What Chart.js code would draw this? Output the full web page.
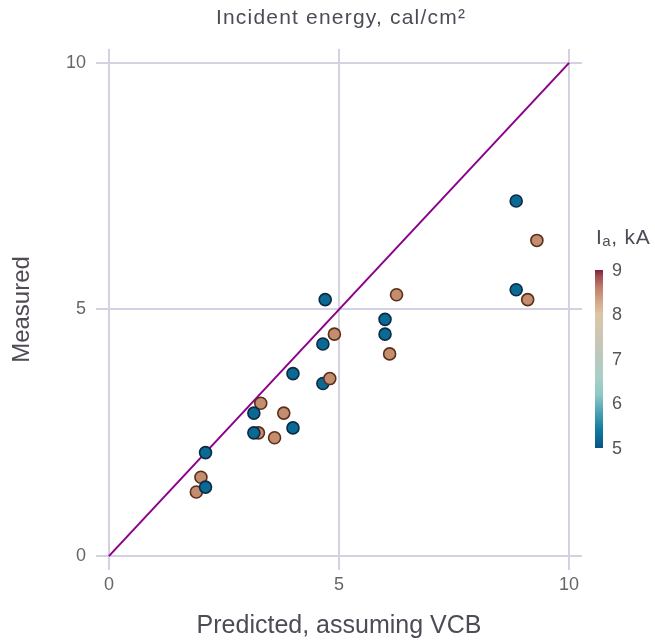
<!DOCTYPE html>
<html>
<head>
<meta charset="utf-8">
<script src="https://cdn.jsdelivr.net/npm/chart.js@4/dist/chart.umd.min.js"></script>
<style>
  html, body { margin: 0; padding: 0; background: #fff; }
  canvas { display: block; }
</style>
</head>
<body>
<canvas id="chart" width="655" height="641"></canvas>
<script>
// data
const predicted = [1.9, 2.0, 3.25, 3.6, 3.3, 3.8, 4.9, 6.1, 6.25, 9.3, 9.1,
                   2.1, 2.1, 3.15, 3.15, 4.0, 4.0, 4.65, 4.65, 4.7, 6.0, 6.0, 8.85, 8.85,
                   4.8];
const measured  = [1.3, 1.6, 2.5, 2.4, 3.1, 2.9, 4.5, 4.1, 5.3, 6.4, 5.2,
                   2.1, 1.4, 2.9, 2.5, 3.7, 2.6, 4.3, 3.5, 5.2, 4.8, 4.5, 7.2, 5.4,
                   3.6];
const currentKA = [8.4, 8.4, 8.4, 8.4, 8.4, 8.4, 8.4, 8.4, 8.4, 8.4, 8.4,
                   5.2, 5.2, 5.2, 5.2, 5.2, 5.2, 5.2, 5.2, 5.2, 5.2, 5.2, 5.2, 5.2,
                   8.4];
const axisTicks = [0, 5, 10];
const identityLine = [0, 10];
const colorbarTicks = [5, 6, 7, 8, 9];

const FONT = "'Liberation Sans', Arial, sans-serif";
const GRID = '#d4d1e3';
const TEXT = '#4f4a55';

// colour scale used by the colour bar (value -> colour)
const cbarStops = [
  [5.0, '#0b5285'], [5.4, '#0f79a0'], [5.8, '#4aa1b3'], [6.2, '#8fc9c5'],
  [6.6, '#a8d0c8'], [7.0, '#bac8bd'], [7.5, '#cdc6b3'], [8.0, '#dcc6a5'],
  [8.3, '#d3a688'], [8.6, '#c07f69'], [8.85, '#a14d50'], [9.0, '#7d2240']
];

const fillFor = v => v < 7 ? '#0b6a94' : '#c48d70';
const edgeFor = v => v < 7 ? '#0d2a45' : '#5a2f1a';

const points = predicted.map((x, i) => ({ x, y: measured[i] }));

// plot title centred over the plot area, plus the colour bar on the right
const decorations = {
  id: 'decorations',
  afterDraw(chart) {
    const ctx = chart.ctx;
    const area = chart.chartArea;
    ctx.save();
    ctx.fillStyle = TEXT;
    ctx.font = '21px ' + FONT;
    ctx.letterSpacing = '1.2px';
    ctx.textAlign = 'center';
    ctx.textBaseline = 'middle';
    ctx.fillText('Incident energy, cal/cm²', (area.left + area.right) / 2 + 2, 18);
    ctx.letterSpacing = '0px';

    const x0 = 595, w = 8, top = 270, bottom = 448;
    const lo = colorbarTicks[0], hi = colorbarTicks[colorbarTicks.length - 1];
    const yOf = v => bottom - (v - lo) / (hi - lo) * (bottom - top);
    const g = ctx.createLinearGradient(0, bottom, 0, top);
    cbarStops.forEach(([v, c]) => g.addColorStop((v - lo) / (hi - lo), c));
    ctx.fillStyle = g;
    ctx.fillRect(x0, top, w, bottom - top);
    ctx.fillStyle = '#555';
    ctx.font = '18px ' + FONT;
    ctx.textAlign = 'left';
    ctx.textBaseline = 'middle';
    colorbarTicks.forEach(t => ctx.fillText(String(t), 612, yOf(t) + 1));

    // legend title I_a, kA
    ctx.fillStyle = TEXT;
    ctx.textBaseline = 'alphabetic';
    ctx.font = '21px ' + FONT;
    ctx.fillText('I', 596, 244);
    const wI = ctx.measureText('I').width;
    ctx.font = '15px ' + FONT;
    ctx.fillText('a', 596 + wI + 0.5, 246);
    const wa = ctx.measureText('a').width;
    ctx.font = '21px ' + FONT;
    ctx.letterSpacing = '0.8px';
    ctx.fillText(', kA', 596 + wI + wa + 1, 244);
    ctx.restore();
  }
};

new Chart(document.getElementById('chart'), {
  type: 'scatter',
  data: {
    datasets: [
      {
        data: points,
        backgroundColor: currentKA.map(fillFor),
        borderColor: currentKA.map(edgeFor),
        borderWidth: 1.6,
        pointRadius: 6,
        pointHoverRadius: 6,
        order: 0
      },
      {
        type: 'line',
        data: identityLine.map(v => ({ x: v, y: v })),
        borderColor: '#8b008b',
        borderWidth: 2,
        pointRadius: 0,
        fill: false,
        order: 1
      }
    ]
  },
  options: {
    responsive: false,
    animation: false,
    devicePixelRatio: 1,
    layout: { padding: { left: 0, right: 73, top: 49, bottom: 0 } },
    plugins: {
      legend: { display: false },
      tooltip: { enabled: false },
      title: { display: false }
    },
    scales: {
      x: {
        type: 'linear',
        min: -0.28,
        max: 10.28,
        afterBuildTicks: s => { s.ticks = axisTicks.map(v => ({ value: v })); },
        afterFit: s => { s.height = 71; },
        grid: { color: GRID, lineWidth: 2, drawTicks: false },
        border: { display: false },
        ticks: { color: '#666', padding: 4, font: { family: FONT, size: 18 } },
        title: {
          display: true,
          text: 'Predicted, assuming VCB',
          color: TEXT,
          font: { family: FONT, size: 25, lineHeight: 1.2 },
          padding: { top: 0, bottom: 0 }
        }
      },
      y: {
        type: 'linear',
        min: -0.28,
        max: 10.28,
        afterBuildTicks: s => { s.ticks = axisTicks.map(v => ({ value: v })); },
        afterFit: s => { s.width = 96; },
        grid: { color: GRID, lineWidth: 2, drawTicks: false },
        border: { display: false },
        ticks: { color: '#666', padding: 10, font: { family: FONT, size: 18 } },
        title: {
          display: true,
          text: 'Measured',
          color: TEXT,
          font: { family: FONT, size: 24, lineHeight: 1.2 },
          padding: { top: 8, bottom: 0 }
        }
      }
    }
  },
  plugins: [decorations]
});
</script>
</body>
</html>
